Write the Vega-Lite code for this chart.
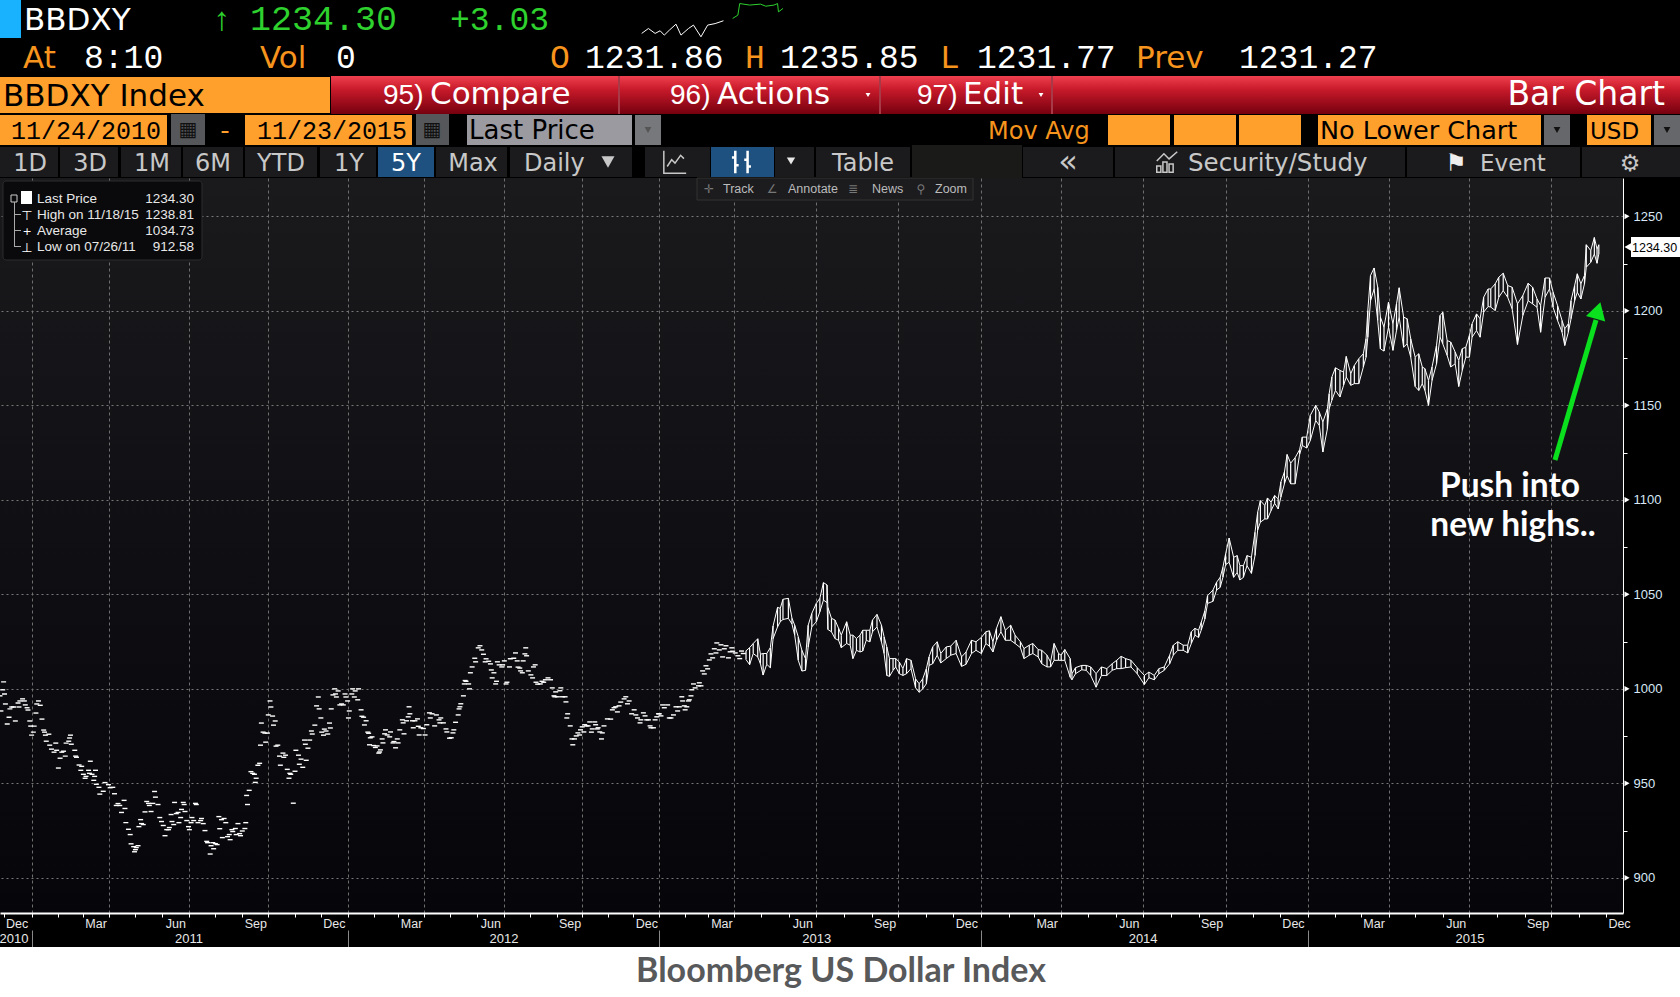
{"$schema":"https://vega.github.io/schema/vega-lite/v6.json","width":1623,"height":735,"autosize":"none","padding":{"left":0,"top":178,"right":57,"bottom":84},"background":"#000",
"view":{"stroke":null,"fill":{"gradient":"linear","x1":0,"y1":0,"x2":0,"y2":1,"stops":[{"offset":0,"color":"#1a1a1d"},{"offset":1,"color":"#05050a"}]}},
"config":{"text":{"align":"left","baseline":"alphabetic","font":"DejaVu Sans","color":"#fff"},"axis":{"labelFont":"Liberation Sans","labelFontSize":12.5,"labelColor":"#e8e8e8","tickColor":"#fff","domainColor":"#fff"}},
"data":{"values":[{}]},
"datasets":{
"closes":[{"d":"2010-11-27","c":996.3},{"d":"2010-11-28","c":988.3},{"d":"2010-11-30","c":999.5},{"d":"2010-12-01","c":1003.7},{"d":"2010-12-02","c":997.3},{"d":"2010-12-03","c":992},{"d":"2010-12-05","c":981.4},{"d":"2010-12-07","c":985},{"d":"2010-12-08","c":989.4},{"d":"2010-12-10","c":990.4},{"d":"2010-12-12","c":990.4},{"d":"2010-12-14","c":983},{"d":"2010-12-17","c":992.5},{"d":"2010-12-18","c":990.4},{"d":"2010-12-19","c":993.6},{"d":"2010-12-22","c":994.7},{"d":"2010-12-24","c":993.6},{"d":"2010-12-25","c":991.5},{"d":"2010-12-27","c":990},{"d":"2010-12-28","c":988.8},{"d":"2010-12-30","c":983},{"d":"2010-12-31","c":980.3},{"d":"2011-01-01","c":975.5},{"d":"2011-01-03","c":977.1},{"d":"2011-01-04","c":980.3},{"d":"2011-01-06","c":987.2},{"d":"2011-01-07","c":992},{"d":"2011-01-09","c":993.6},{"d":"2011-01-11","c":991.3},{"d":"2011-01-13","c":984},{"d":"2011-01-15","c":978.2},{"d":"2011-01-16","c":977.1},{"d":"2011-01-17","c":975.5},{"d":"2011-01-18","c":972.3},{"d":"2011-01-21","c":976},{"d":"2011-01-22","c":970.2},{"d":"2011-01-24","c":968.1},{"d":"2011-01-27","c":966.5},{"d":"2011-01-29","c":971.3},{"d":"2011-01-30","c":967.5},{"d":"2011-02-01","c":958.1},{"d":"2011-02-03","c":963.3},{"d":"2011-02-05","c":966.5},{"d":"2011-02-07","c":967},{"d":"2011-02-09","c":964.4},{"d":"2011-02-10","c":971.3},{"d":"2011-02-13","c":972.3},{"d":"2011-02-14","c":974},{"d":"2011-02-15","c":975.5},{"d":"2011-02-16","c":970.7},{"d":"2011-02-20","c":967.5},{"d":"2011-02-21","c":964.4},{"d":"2011-02-22","c":963.8},{"d":"2011-02-25","c":959.7},{"d":"2011-02-27","c":956.9},{"d":"2011-02-28","c":959},{"d":"2011-03-02","c":954.8},{"d":"2011-03-04","c":952.7},{"d":"2011-03-05","c":953.7},{"d":"2011-03-08","c":956.9},{"d":"2011-03-09","c":955.3},{"d":"2011-03-10","c":961.7},{"d":"2011-03-12","c":954.8},{"d":"2011-03-14","c":951.6},{"d":"2011-03-15","c":953.7},{"d":"2011-03-16","c":956.9},{"d":"2011-03-17","c":949.5},{"d":"2011-03-20","c":947.9},{"d":"2011-03-21","c":944.3},{"d":"2011-03-25","c":945.8},{"d":"2011-03-27","c":950.4},{"d":"2011-03-31","c":949.3},{"d":"2011-04-02","c":947.7},{"d":"2011-04-05","c":947.9},{"d":"2011-04-07","c":944.5},{"d":"2011-04-09","c":938.3},{"d":"2011-04-11","c":939.3},{"d":"2011-04-13","c":938.3},{"d":"2011-04-15","c":934.6},{"d":"2011-04-18","c":941},{"d":"2011-04-19","c":936.7},{"d":"2011-04-20","c":929.2},{"d":"2011-04-23","c":925.7},{"d":"2011-04-25","c":922.9},{"d":"2011-04-26","c":918},{"d":"2011-04-29","c":916.5},{"d":"2011-04-30","c":913.8},{"d":"2011-05-01","c":914.9},{"d":"2011-05-02","c":916},{"d":"2011-05-04","c":917},{"d":"2011-05-05","c":927.1},{"d":"2011-05-07","c":930.8},{"d":"2011-05-08","c":928.7},{"d":"2011-05-10","c":928.2},{"d":"2011-05-12","c":934.9},{"d":"2011-05-14","c":940.4},{"d":"2011-05-16","c":939.4},{"d":"2011-05-17","c":938.3},{"d":"2011-05-19","c":935.1},{"d":"2011-05-21","c":939.4},{"d":"2011-05-23","c":945.7},{"d":"2011-05-24","c":942.7},{"d":"2011-05-27","c":938.8},{"d":"2011-05-29","c":931.9},{"d":"2011-05-31","c":929.8},{"d":"2011-06-02","c":927.7},{"d":"2011-06-04","c":922.3},{"d":"2011-06-06","c":925.5},{"d":"2011-06-08","c":925.5},{"d":"2011-06-09","c":926.6},{"d":"2011-06-11","c":933.5},{"d":"2011-06-12","c":929.8},{"d":"2011-06-14","c":928.2},{"d":"2011-06-15","c":939.9},{"d":"2011-06-17","c":934},{"d":"2011-06-19","c":934.6},{"d":"2011-06-20","c":929.2},{"d":"2011-06-22","c":931.9},{"d":"2011-06-23","c":936.2},{"d":"2011-06-25","c":939.9},{"d":"2011-06-26","c":938.8},{"d":"2011-06-27","c":935.1},{"d":"2011-06-29","c":930.3},{"d":"2011-07-01","c":927.1},{"d":"2011-07-02","c":925.5},{"d":"2011-07-04","c":929.2},{"d":"2011-07-05","c":931.9},{"d":"2011-07-07","c":930.3},{"d":"2011-07-09","c":939.4},{"d":"2011-07-10","c":938.8},{"d":"2011-07-12","c":929.2},{"d":"2011-07-15","c":930.3},{"d":"2011-07-16","c":931.4},{"d":"2011-07-18","c":928.7},{"d":"2011-07-20","c":925},{"d":"2011-07-22","c":919.3},{"d":"2011-07-23","c":918.6},{"d":"2011-07-26","c":912.6},{"d":"2011-07-27","c":917},{"d":"2011-07-29","c":918.6},{"d":"2011-07-30","c":915.4},{"d":"2011-08-01","c":918.1},{"d":"2011-08-03","c":917.6},{"d":"2011-08-05","c":932.4},{"d":"2011-08-06","c":926},{"d":"2011-08-08","c":930.8},{"d":"2011-08-09","c":921.3},{"d":"2011-08-11","c":931.4},{"d":"2011-08-13","c":929.2},{"d":"2011-08-15","c":921.8},{"d":"2011-08-17","c":922.9},{"d":"2011-08-18","c":920.2},{"d":"2011-08-20","c":925.5},{"d":"2011-08-21","c":924.5},{"d":"2011-08-24","c":926.1},{"d":"2011-08-25","c":922.9},{"d":"2011-08-27","c":928.7},{"d":"2011-08-29","c":923.4},{"d":"2011-08-30","c":922.3},{"d":"2011-09-01","c":924.8},{"d":"2011-09-04","c":926.1},{"d":"2011-09-05","c":929.2},{"d":"2011-09-06","c":943.6},{"d":"2011-09-07","c":938.8},{"d":"2011-09-09","c":946.3},{"d":"2011-09-11","c":956.2},{"d":"2011-09-13","c":955.3},{"d":"2011-09-15","c":954.8},{"d":"2011-09-16","c":950.5},{"d":"2011-09-17","c":952.7},{"d":"2011-09-19","c":959.6},{"d":"2011-09-21","c":960.6},{"d":"2011-09-22","c":970.2},{"d":"2011-09-23","c":981.9},{"d":"2011-09-25","c":977.1},{"d":"2011-09-27","c":976.6},{"d":"2011-09-28","c":971.8},{"d":"2011-09-30","c":976.6},{"d":"2011-10-01","c":986.2},{"d":"2011-10-03","c":993.6},{"d":"2011-10-04","c":990.4},{"d":"2011-10-06","c":985.6},{"d":"2011-10-07","c":980.8},{"d":"2011-10-09","c":983},{"d":"2011-10-10","c":969.7},{"d":"2011-10-12","c":970.2},{"d":"2011-10-14","c":964.4},{"d":"2011-10-15","c":959.6},{"d":"2011-10-18","c":966},{"d":"2011-10-19","c":963.8},{"d":"2011-10-21","c":964.9},{"d":"2011-10-23","c":957.4},{"d":"2011-10-25","c":952.7},{"d":"2011-10-26","c":955.3},{"d":"2011-10-27","c":954.8},{"d":"2011-10-30","c":939.5},{"d":"2011-11-01","c":956.4},{"d":"2011-11-02","c":967.5},{"d":"2011-11-05","c":964.9},{"d":"2011-11-06","c":960.1},{"d":"2011-11-08","c":962.8},{"d":"2011-11-10","c":958.5},{"d":"2011-11-12","c":972.9},{"d":"2011-11-13","c":970.7},{"d":"2011-11-14","c":962.2},{"d":"2011-11-16","c":968.6},{"d":"2011-11-18","c":972.9},{"d":"2011-11-20","c":977.7},{"d":"2011-11-21","c":976.1},{"d":"2011-11-24","c":980.8},{"d":"2011-11-26","c":991},{"d":"2011-11-28","c":995.7},{"d":"2011-11-29","c":989.4},{"d":"2011-12-01","c":984.6},{"d":"2011-12-02","c":977.1},{"d":"2011-12-04","c":975.5},{"d":"2011-12-05","c":978.7},{"d":"2011-12-07","c":977.7},{"d":"2011-12-09","c":976.1},{"d":"2011-12-11","c":981.9},{"d":"2011-12-12","c":979.3},{"d":"2011-12-13","c":989.4},{"d":"2011-12-15","c":996.8},{"d":"2011-12-17","c":1000},{"d":"2011-12-18","c":997.3},{"d":"2011-12-19","c":995.7},{"d":"2011-12-21","c":998.9},{"d":"2011-12-23","c":991.5},{"d":"2011-12-25","c":992},{"d":"2011-12-27","c":991.5},{"d":"2011-12-29","c":997.3},{"d":"2011-12-30","c":995.7},{"d":"2012-01-01","c":993.6},{"d":"2012-01-02","c":984.6},{"d":"2012-01-03","c":988.3},{"d":"2012-01-06","c":997.3},{"d":"2012-01-07","c":1000},{"d":"2012-01-09","c":995.7},{"d":"2012-01-10","c":998.9},{"d":"2012-01-13","c":994.2},{"d":"2012-01-14","c":1000},{"d":"2012-01-17","c":988.9},{"d":"2012-01-18","c":985.5},{"d":"2012-01-20","c":985},{"d":"2012-01-21","c":980.9},{"d":"2012-01-23","c":983.1},{"d":"2012-01-25","c":977.1},{"d":"2012-01-26","c":976.5},{"d":"2012-01-27","c":970.4},{"d":"2012-01-28","c":974.1},{"d":"2012-01-30","c":974.6},{"d":"2012-02-01","c":970},{"d":"2012-02-03","c":969},{"d":"2012-02-05","c":969.8},{"d":"2012-02-07","c":966},{"d":"2012-02-08","c":966.6},{"d":"2012-02-09","c":967.7},{"d":"2012-02-11","c":973.5},{"d":"2012-02-12","c":971.4},{"d":"2012-02-14","c":976.2},{"d":"2012-02-15","c":978.3},{"d":"2012-02-17","c":975.6},{"d":"2012-02-20","c":974.6},{"d":"2012-02-21","c":977.2},{"d":"2012-02-24","c":971.4},{"d":"2012-02-25","c":972.1},{"d":"2012-02-27","c":968.8},{"d":"2012-02-29","c":973.5},{"d":"2012-03-01","c":971.4},{"d":"2012-03-03","c":978.3},{"d":"2012-03-06","c":983.6},{"d":"2012-03-07","c":982},{"d":"2012-03-08","c":976.2},{"d":"2012-03-11","c":983.1},{"d":"2012-03-13","c":985.2},{"d":"2012-03-14","c":990.5},{"d":"2012-03-15","c":986.8},{"d":"2012-03-18","c":983.1},{"d":"2012-03-19","c":979.4},{"d":"2012-03-21","c":983.1},{"d":"2012-03-24","c":984.1},{"d":"2012-03-25","c":980.2},{"d":"2012-03-26","c":975.6},{"d":"2012-03-28","c":979.4},{"d":"2012-03-31","c":979},{"d":"2012-04-02","c":975.6},{"d":"2012-04-04","c":981},{"d":"2012-04-07","c":987.3},{"d":"2012-04-08","c":984.6},{"d":"2012-04-10","c":986.8},{"d":"2012-04-13","c":980.4},{"d":"2012-04-15","c":986.2},{"d":"2012-04-18","c":983.6},{"d":"2012-04-19","c":982},{"d":"2012-04-20","c":984.6},{"d":"2012-04-23","c":982},{"d":"2012-04-26","c":978.8},{"d":"2012-04-27","c":977.2},{"d":"2012-04-30","c":973.9},{"d":"2012-05-02","c":974.1},{"d":"2012-05-04","c":976.7},{"d":"2012-05-05","c":978.3},{"d":"2012-05-07","c":982.3},{"d":"2012-05-10","c":986.2},{"d":"2012-05-11","c":989.4},{"d":"2012-05-12","c":990.5},{"d":"2012-05-13","c":992.1},{"d":"2012-05-16","c":996.3},{"d":"2012-05-17","c":1002.6},{"d":"2012-05-18","c":1004.4},{"d":"2012-05-19","c":1004},{"d":"2012-05-22","c":1002.6},{"d":"2012-05-23","c":1000},{"d":"2012-05-24","c":1008.5},{"d":"2012-05-26","c":1011.6},{"d":"2012-05-29","c":1016.2},{"d":"2012-05-30","c":1014.3},{"d":"2012-06-02","c":1021.7},{"d":"2012-06-04","c":1022.8},{"d":"2012-06-06","c":1020.6},{"d":"2012-06-08","c":1018.3},{"d":"2012-06-10","c":1014.3},{"d":"2012-06-11","c":1015.9},{"d":"2012-06-14","c":1014.6},{"d":"2012-06-16","c":1013.2},{"d":"2012-06-17","c":1010},{"d":"2012-06-18","c":1005.8},{"d":"2012-06-20","c":1008.5},{"d":"2012-06-22","c":1002.6},{"d":"2012-06-23","c":1004},{"d":"2012-06-24","c":1014.3},{"d":"2012-06-26","c":1012.7},{"d":"2012-06-29","c":1011.6},{"d":"2012-06-30","c":1012.7},{"d":"2012-07-02","c":1014.8},{"d":"2012-07-04","c":1002.6},{"d":"2012-07-05","c":1003.5},{"d":"2012-07-08","c":1011.6},{"d":"2012-07-09","c":1015.9},{"d":"2012-07-13","c":1016.2},{"d":"2012-07-15","c":1019},{"d":"2012-07-17","c":1014.8},{"d":"2012-07-18","c":1011.5},{"d":"2012-07-20","c":1011},{"d":"2012-07-21","c":1009.5},{"d":"2012-07-23","c":1008.5},{"d":"2012-07-24","c":1014.8},{"d":"2012-07-26","c":1018.5},{"d":"2012-07-27","c":1021.7},{"d":"2012-07-28","c":1017.5},{"d":"2012-07-30","c":1009.5},{"d":"2012-08-02","c":1007.4},{"d":"2012-08-04","c":1005.8},{"d":"2012-08-05","c":1011.6},{"d":"2012-08-07","c":1012.7},{"d":"2012-08-08","c":1003.5},{"d":"2012-08-10","c":1002.5},{"d":"2012-08-13","c":1002.6},{"d":"2012-08-15","c":1004},{"d":"2012-08-17","c":1003.5},{"d":"2012-08-19","c":1004.8},{"d":"2012-08-22","c":1005.8},{"d":"2012-08-25","c":1004.8},{"d":"2012-08-27","c":1000.5},{"d":"2012-08-29","c":996.3},{"d":"2012-08-30","c":995.8},{"d":"2012-08-31","c":998.4},{"d":"2012-09-02","c":995.8},{"d":"2012-09-05","c":999},{"d":"2012-09-06","c":1000.5},{"d":"2012-09-08","c":995.8},{"d":"2012-09-11","c":995.8},{"d":"2012-09-12","c":993.1},{"d":"2012-09-13","c":984.6},{"d":"2012-09-14","c":986.8},{"d":"2012-09-17","c":980.4},{"d":"2012-09-19","c":973.5},{"d":"2012-09-20","c":970.4},{"d":"2012-09-22","c":973.5},{"d":"2012-09-24","c":975.1},{"d":"2012-09-26","c":976.7},{"d":"2012-09-28","c":975.6},{"d":"2012-09-29","c":978.3},{"d":"2012-10-01","c":979.9},{"d":"2012-10-03","c":977.2},{"d":"2012-10-04","c":981},{"d":"2012-10-06","c":980.4},{"d":"2012-10-08","c":980.4},{"d":"2012-10-10","c":982.5},{"d":"2012-10-12","c":977.1},{"d":"2012-10-13","c":978.8},{"d":"2012-10-16","c":982.5},{"d":"2012-10-17","c":981},{"d":"2012-10-19","c":978.8},{"d":"2012-10-20","c":979.4},{"d":"2012-10-22","c":977.2},{"d":"2012-10-24","c":973.5},{"d":"2012-10-25","c":976.7},{"d":"2012-10-27","c":980.4},{"d":"2012-10-31","c":984.1},{"d":"2012-11-04","c":984},{"d":"2012-11-06","c":988.9},{"d":"2012-11-08","c":990},{"d":"2012-11-10","c":990.5},{"d":"2012-11-12","c":987.8},{"d":"2012-11-14","c":991},{"d":"2012-11-16","c":993},{"d":"2012-11-20","c":994.7},{"d":"2012-11-22","c":995.8},{"d":"2012-11-24","c":992.1},{"d":"2012-11-26","c":993.6},{"d":"2012-11-29","c":986.8},{"d":"2012-12-02","c":988.9},{"d":"2012-12-04","c":986.2},{"d":"2012-12-06","c":984.6},{"d":"2012-12-09","c":982},{"d":"2012-12-10","c":983.6},{"d":"2012-12-13","c":987.3},{"d":"2012-12-15","c":985.7},{"d":"2012-12-17","c":983.6},{"d":"2012-12-19","c":983.6},{"d":"2012-12-21","c":980.4},{"d":"2012-12-22","c":979.4},{"d":"2012-12-25","c":979.4},{"d":"2012-12-27","c":983.6},{"d":"2012-12-29","c":985.2},{"d":"2012-12-31","c":986.8},{"d":"2013-01-01","c":986.8},{"d":"2013-01-03","c":985.7},{"d":"2013-01-05","c":991.5},{"d":"2013-01-07","c":990},{"d":"2013-01-11","c":991.5},{"d":"2013-01-13","c":984.6},{"d":"2013-01-15","c":984.6},{"d":"2013-01-18","c":986.2},{"d":"2013-01-21","c":990.5},{"d":"2013-01-23","c":988.3},{"d":"2013-01-25","c":990.5},{"d":"2013-01-28","c":995.8},{"d":"2013-01-29","c":993.6},{"d":"2013-01-31","c":991},{"d":"2013-02-01","c":988.9},{"d":"2013-02-03","c":990.5},{"d":"2013-02-05","c":993.6},{"d":"2013-02-06","c":994.2},{"d":"2013-02-08","c":996.3},{"d":"2013-02-09","c":999.5},{"d":"2013-02-11","c":1002.6},{"d":"2013-02-13","c":1000.5},{"d":"2013-02-17","c":1001.6},{"d":"2013-02-18","c":1003.2},{"d":"2013-02-20","c":1001.6},{"d":"2013-02-22","c":1009.5},{"d":"2013-02-24","c":1007.9},{"d":"2013-02-26","c":1012.2},{"d":"2013-02-28","c":1010.6},{"d":"2013-03-02","c":1015.3},{"d":"2013-03-04","c":1018.5},{"d":"2013-03-06","c":1016.4},{"d":"2013-03-08","c":1021.2},{"d":"2013-03-10","c":1019},{"d":"2013-03-11","c":1024.3},{"d":"2013-03-14","c":1020.6},{"d":"2013-03-16","c":1023.3},{"d":"2013-03-18","c":1016.9},{"d":"2013-03-20","c":1021.2},{"d":"2013-03-22","c":1022.8},{"d":"2013-03-25","c":1016.4},{"d":"2013-03-27","c":1019.6},{"d":"2013-03-29","c":1021.7},{"d":"2013-03-30","c":1019.9},{"d":"2013-04-02","c":1019},{"d":"2013-04-05","c":1017.5},{"d":"2013-04-07","c":1016},{"d":"2013-04-09","c":1020},{"d":"2013-04-11","c":1018.7}],
"bars":[{"d":"2013-04-14","h":1020.1,"l":1015.5},{"d":"2013-04-18","h":1021.8,"l":1012.8},{"d":"2013-04-22","h":1024,"l":1018.7},{"d":"2013-04-27","h":1026.5,"l":1016.9},{"d":"2013-04-30","h":1018.3,"l":1013.3},{"d":"2013-05-03","h":1018.7,"l":1007.3},{"d":"2013-05-07","h":1018.7,"l":1013},{"d":"2013-05-11","h":1021.8,"l":1011.2},{"d":"2013-05-14","h":1033.2,"l":1026.5},{"d":"2013-05-19","h":1043.1,"l":1032.8},{"d":"2013-05-22","h":1042.6,"l":1035.5},{"d":"2013-05-25","h":1047.4,"l":1036.7},{"d":"2013-05-31","h":1047.9,"l":1037.3},{"d":"2013-06-04","h":1037.3,"l":1034.3},{"d":"2013-06-07","h":1033.7,"l":1028.4},{"d":"2013-06-11","h":1027.5,"l":1015.1},{"d":"2013-06-15","h":1020.4,"l":1009.4},{"d":"2013-06-19","h":1016,"l":1009.8},{"d":"2013-06-22","h":1033.7,"l":1022.2},{"d":"2013-06-26","h":1039.9,"l":1032.8},{"d":"2013-07-01","h":1045.2,"l":1035.5},{"d":"2013-07-05","h":1047.9,"l":1040.8},{"d":"2013-07-09","h":1056.2,"l":1047},{"d":"2013-07-13","h":1055,"l":1045.6},{"d":"2013-07-14","h":1043.1,"l":1031.4},{"d":"2013-07-18","h":1037.3,"l":1030.2},{"d":"2013-07-22","h":1036.4,"l":1026.6},{"d":"2013-07-26","h":1032,"l":1025.7},{"d":"2013-07-29","h":1028.4,"l":1021.8},{"d":"2013-08-04","h":1035.5,"l":1024},{"d":"2013-08-08","h":1028.4,"l":1023.1},{"d":"2013-08-11","h":1028.4,"l":1016},{"d":"2013-08-15","h":1026.6,"l":1020.4},{"d":"2013-08-19","h":1028.4,"l":1019.5},{"d":"2013-08-22","h":1031,"l":1020},{"d":"2013-08-26","h":1031,"l":1025.7},{"d":"2013-08-30","h":1031,"l":1024.9},{"d":"2013-09-02","h":1036.4,"l":1030.2},{"d":"2013-09-07","h":1039.4,"l":1032.8},{"d":"2013-09-12","h":1033.7,"l":1024.9},{"d":"2013-09-15","h":1027.5,"l":1018.7},{"d":"2013-09-18","h":1022.2,"l":1007.1},{"d":"2013-09-21","h":1016,"l":1006.6},{"d":"2013-09-25","h":1016,"l":1009.8},{"d":"2013-09-28","h":1016,"l":1011.6},{"d":"2013-10-02","h":1014.2,"l":1008},{"d":"2013-10-06","h":1010.7,"l":1007.1},{"d":"2013-10-10","h":1016,"l":1008},{"d":"2013-10-15","h":1015.1,"l":1010.7},{"d":"2013-10-20","h":1005.3,"l":1000.6},{"d":"2013-10-24","h":1002.7,"l":998.2},{"d":"2013-10-28","h":1005.3,"l":1000},{"d":"2013-11-01","h":1010.7,"l":1002.7},{"d":"2013-11-04","h":1016.9,"l":1012.4},{"d":"2013-11-08","h":1022.2,"l":1013.3},{"d":"2013-11-13","h":1024.9,"l":1017.8},{"d":"2013-11-17","h":1018.7,"l":1013.7},{"d":"2013-11-23","h":1022.2,"l":1016},{"d":"2013-11-28","h":1022.6,"l":1017.8},{"d":"2013-12-04","h":1025.7,"l":1018.7},{"d":"2013-12-10","h":1016.9,"l":1011.9},{"d":"2013-12-15","h":1019.5,"l":1013},{"d":"2013-12-21","h":1025.7,"l":1018.7},{"d":"2013-12-26","h":1024.9,"l":1020.4},{"d":"2014-01-01","h":1027.2,"l":1018.7},{"d":"2014-01-06","h":1030.2,"l":1024},{"d":"2014-01-10","h":1030.7,"l":1022.6},{"d":"2014-01-14","h":1024.9,"l":1019.5},{"d":"2014-01-18","h":1032,"l":1025.7},{"d":"2014-01-23","h":1038.2,"l":1030.2},{"d":"2014-01-28","h":1031,"l":1025.7},{"d":"2014-02-03","h":1033.7,"l":1025.7},{"d":"2014-02-08","h":1028.4,"l":1024},{"d":"2014-02-14","h":1024.9,"l":1021.8},{"d":"2014-02-18","h":1021.3,"l":1016},{"d":"2014-02-24","h":1023.1,"l":1017.8},{"d":"2014-02-28","h":1024,"l":1018.7},{"d":"2014-03-06","h":1020.8,"l":1016.9},{"d":"2014-03-10","h":1020.4,"l":1013.3},{"d":"2014-03-16","h":1017.8,"l":1011.6},{"d":"2014-03-20","h":1014.2,"l":1011.6},{"d":"2014-03-24","h":1024,"l":1015.1},{"d":"2014-03-29","h":1018.7,"l":1015.1},{"d":"2014-04-01","h":1017.8,"l":1015.1},{"d":"2014-04-05","h":1020.8,"l":1015.1},{"d":"2014-04-11","h":1016,"l":1006.2},{"d":"2014-04-13","h":1008,"l":1004.8},{"d":"2014-04-17","h":1011.2,"l":1008},{"d":"2014-04-24","h":1012.4,"l":1010.1},{"d":"2014-04-29","h":1012.4,"l":1009.8},{"d":"2014-05-04","h":1011.6,"l":1007.1},{"d":"2014-05-10","h":1008,"l":1000.9},{"d":"2014-05-16","h":1011.6,"l":1007.1},{"d":"2014-05-22","h":1010.7,"l":1007.1},{"d":"2014-05-28","h":1013.3,"l":1009.8},{"d":"2014-06-02","h":1015.1,"l":1010.7},{"d":"2014-06-07","h":1017.2,"l":1010.7},{"d":"2014-06-12","h":1016,"l":1011.2},{"d":"2014-06-18","h":1015.1,"l":1011.6},{"d":"2014-06-25","h":1011.2,"l":1008},{"d":"2014-07-03","h":1007.1,"l":1002.3},{"d":"2014-07-08","h":1008.9,"l":1005.9},{"d":"2014-07-14","h":1007.1,"l":1004.8},{"d":"2014-07-19","h":1010.7,"l":1008},{"d":"2014-07-25","h":1011.6,"l":1009.8},{"d":"2014-07-31","h":1017.8,"l":1013.3},{"d":"2014-08-04","h":1023.1,"l":1017.8},{"d":"2014-08-09","h":1024.9,"l":1020.4},{"d":"2014-08-15","h":1023.1,"l":1020.4},{"d":"2014-08-20","h":1023.1,"l":1019},{"d":"2014-08-24","h":1030.2,"l":1024},{"d":"2014-08-28","h":1032,"l":1028.4},{"d":"2014-09-01","h":1031,"l":1027.2},{"d":"2014-09-04","h":1035.2,"l":1031.1},{"d":"2014-09-08","h":1041.3,"l":1036.9},{"d":"2014-09-11","h":1049.3,"l":1045.2},{"d":"2014-09-17","h":1052.3,"l":1046.3},{"d":"2014-09-21","h":1056.4,"l":1052.3},{"d":"2014-09-25","h":1059,"l":1053.7},{"d":"2014-09-28","h":1064.3,"l":1059},{"d":"2014-10-01","h":1071.4,"l":1065.7},{"d":"2014-10-05","h":1079.8,"l":1067},{"d":"2014-10-10","h":1069.6,"l":1059},{"d":"2014-10-14","h":1070.5,"l":1061.6},{"d":"2014-10-17","h":1065.2,"l":1057.6},{"d":"2014-10-21","h":1065.2,"l":1059},{"d":"2014-10-25","h":1070.5,"l":1065.2},{"d":"2014-10-30","h":1069.6,"l":1061.1},{"d":"2014-11-03","h":1082.9,"l":1070.5},{"d":"2014-11-06","h":1093.5,"l":1084.1},{"d":"2014-11-09","h":1099.6,"l":1088.2},{"d":"2014-11-14","h":1097,"l":1089.9},{"d":"2014-11-17","h":1101,"l":1089.9},{"d":"2014-11-21","h":1098.8,"l":1094.3},{"d":"2014-11-25","h":1102.3,"l":1098.2},{"d":"2014-11-29","h":1100.5,"l":1095.2},{"d":"2014-12-02","h":1109.4,"l":1101.4},{"d":"2014-12-06","h":1114.7,"l":1108.5},{"d":"2014-12-09","h":1124,"l":1112.9},{"d":"2014-12-13","h":1119.4,"l":1108.5},{"d":"2014-12-18","h":1122.3,"l":1108.5},{"d":"2014-12-23","h":1126.5,"l":1124},{"d":"2014-12-26","h":1133.2,"l":1128.8},{"d":"2014-12-31","h":1133.2,"l":1127.4},{"d":"2015-01-04","h":1144.7,"l":1131.4},{"d":"2015-01-10","h":1150,"l":1142},{"d":"2015-01-14","h":1146.5,"l":1139.4},{"d":"2015-01-18","h":1141.2,"l":1125.3},{"d":"2015-01-23","h":1148.2,"l":1137.6},{"d":"2015-01-25","h":1156.2,"l":1148.2},{"d":"2015-01-28","h":1165,"l":1152.7},{"d":"2015-02-01","h":1169.9,"l":1157.9},{"d":"2015-02-06","h":1168.5,"l":1154.4},{"d":"2015-02-10","h":1167.6,"l":1160.6},{"d":"2015-02-13","h":1175.9,"l":1165},{"d":"2015-02-18","h":1166.7,"l":1160.6},{"d":"2015-02-22","h":1171.1,"l":1161.5},{"d":"2015-02-27","h":1174.7,"l":1161.5},{"d":"2015-03-04","h":1177.3,"l":1170.3},{"d":"2015-03-07","h":1185.2,"l":1175.5},{"d":"2015-03-09","h":1200.2,"l":1186.1},{"d":"2015-03-12","h":1218.7,"l":1205.4},{"d":"2015-03-16","h":1222.7,"l":1211.6},{"d":"2015-03-20","h":1212.5,"l":1194.9},{"d":"2015-03-23","h":1196.7,"l":1179.9},{"d":"2015-03-27","h":1191.4,"l":1178.7},{"d":"2015-04-01","h":1204.6,"l":1191.4},{"d":"2015-04-06","h":1193.1,"l":1179.1},{"d":"2015-04-10","h":1203.7,"l":1189.6},{"d":"2015-04-13","h":1212.2,"l":1196.7},{"d":"2015-04-18","h":1196.7,"l":1180.8},{"d":"2015-04-22","h":1195.8,"l":1182.6},{"d":"2015-04-26","h":1185.2,"l":1175.5},{"d":"2015-05-01","h":1175.5,"l":1160},{"d":"2015-05-05","h":1177.3,"l":1157.9},{"d":"2015-05-09","h":1170.3,"l":1161.5},{"d":"2015-05-12","h":1169.4,"l":1157.9},{"d":"2015-05-16","h":1163.2,"l":1150},{"d":"2015-05-20","h":1170.3,"l":1163.2},{"d":"2015-05-25","h":1181.7,"l":1172},{"d":"2015-05-29","h":1197.5,"l":1186.1},{"d":"2015-06-01","h":1199.3,"l":1182.6},{"d":"2015-06-06","h":1184.3,"l":1176.4},{"d":"2015-06-10","h":1183.5,"l":1170.3},{"d":"2015-06-15","h":1178.2,"l":1172},{"d":"2015-06-19","h":1173.8,"l":1160},{"d":"2015-06-23","h":1180,"l":1168.5},{"d":"2015-06-27","h":1180.8,"l":1175.5},{"d":"2015-07-01","h":1187,"l":1175.5},{"d":"2015-07-04","h":1193.1,"l":1186.1},{"d":"2015-07-09","h":1198.4,"l":1189.6},{"d":"2015-07-13","h":1195.8,"l":1186.1},{"d":"2015-07-17","h":1207.2,"l":1199.3},{"d":"2015-07-22","h":1211.6,"l":1202.3},{"d":"2015-07-25","h":1211.6,"l":1202},{"d":"2015-07-30","h":1214.3,"l":1200.2},{"d":"2015-08-03","h":1217.8,"l":1207.2},{"d":"2015-08-08","h":1219.9,"l":1210.7},{"d":"2015-08-13","h":1213.4,"l":1207.2},{"d":"2015-08-18","h":1212.5,"l":1201.1},{"d":"2015-08-24","h":1203.7,"l":1182.2},{"d":"2015-08-30","h":1208.1,"l":1197.5},{"d":"2015-09-05","h":1214.6,"l":1205.4},{"d":"2015-09-10","h":1212.5,"l":1203.7},{"d":"2015-09-15","h":1206.3,"l":1201.9},{"d":"2015-09-19","h":1202.8,"l":1188.7},{"d":"2015-09-24","h":1217.4,"l":1207.2},{"d":"2015-09-29","h":1217.4,"l":1211.6},{"d":"2015-10-03","h":1209.9,"l":1201.9},{"d":"2015-10-08","h":1202.8,"l":1194.9},{"d":"2015-10-13","h":1194.9,"l":1188.7},{"d":"2015-10-16","h":1190.5,"l":1181.7},{"d":"2015-10-20","h":1193.1,"l":1188.7},{"d":"2015-10-23","h":1205.4,"l":1195.8},{"d":"2015-10-27","h":1213.4,"l":1205.4},{"d":"2015-10-30","h":1219.6,"l":1209.9},{"d":"2015-11-03","h":1214.3,"l":1206.3},{"d":"2015-11-07","h":1218.7,"l":1214.3},{"d":"2015-11-09","h":1235,"l":1223.1},{"d":"2015-11-14","h":1231.9,"l":1225.7},{"d":"2015-11-18","h":1238.8,"l":1230.1},{"d":"2015-11-21","h":1232.7,"l":1225.2},{"d":"2015-11-23","h":1235,"l":1230.1}],
"sparkPrior":[{"d":"2012-12-11","v":1346.8},{"d":"2012-12-19","v":1349.4},{"d":"2012-12-27","v":1346.8},{"d":"2013-01-02","v":1348.2},{"d":"2013-01-07","v":1345.9},{"d":"2013-01-13","v":1348.5},{"d":"2013-01-21","v":1351.7},{"d":"2013-01-27","v":1345.9},{"d":"2013-02-05","v":1349.4},{"d":"2013-02-11","v":1351.2},{"d":"2013-02-20","v":1345},{"d":"2013-02-28","v":1351.2},{"d":"2013-03-09","v":1352},{"d":"2013-03-19","v":1353.5}],
"sparkNow":[{"d":"2013-03-30","v":1354.7},{"d":"2013-04-05","v":1356.5},{"d":"2013-04-07","v":1362.6},{"d":"2013-04-18","v":1361.8},{"d":"2013-04-30","v":1362.3},{"d":"2013-05-06","v":1361.2},{"d":"2013-05-15","v":1361.8},{"d":"2013-05-19","v":1362.6},{"d":"2013-05-20","v":1358.2},{"d":"2013-05-25","v":1360}],
"levels":[{"v":900},{"v":950},{"v":1000},{"v":1050},{"v":1100},{"v":1150},{"v":1200},{"v":1250}]
},
"resolve":{"axis":{"x":"independent","y":"independent"}},
"layer":[
{"data":{"name":"closes"},"mark":{"type":"tick","orient":"horizontal","size":5,"thickness":1.4,"color":"#fff","opacity":1},"encoding":{
"x":{"field":"d","type":"temporal","title":null,"scale":{"type":"utc","domain":{"expr":"[utc(2010,10,27),utc(2011,0,1),utc(2011,3,1),utc(2011,6,1),utc(2011,9,1),utc(2012,0,1),utc(2012,3,1),utc(2012,6,1),utc(2012,9,1),utc(2013,0,1),utc(2013,3,1),utc(2013,6,1),utc(2013,9,1),utc(2014,0,1),utc(2014,3,1),utc(2014,6,1),utc(2014,9,1),utc(2015,0,1),utc(2015,3,1),utc(2015,6,1),utc(2015,9,1),utc(2015,11,1),utc(2015,11,21)]"},"range":[0,31.6,109.3,188.5,268.3,347.6,424.2,503.5,582.2,659.3,734.3,816.3,898.4,981.4,1061.2,1142.6,1225.6,1307.6,1388.5,1469.4,1551.3,1606,1623]},"axis":{"orient":"bottom","tickCount":{"interval":"month","step":1},"grid":false,"domainWidth":2,"tickSize":4,"labelPadding":0,"labelOffset":13,"labelOverlap":false,"labelBound":false,"labelFlush":false,"labelExpr":"indexof([2,5,8,11],utcmonth(datum.value))>=0?utcFormat(datum.value,'%b'):''"}},
"y":{"field":"c","type":"quantitative","title":null,"scale":{"domain":[881.4,1270.3],"nice":false,"zero":false},"axis":{"orient":"right","format":"d","values":[900,950,1000,1050,1100,1150,1200,1250],"grid":true,"gridDash":[2,3],"gridColor":"#777","tickSize":9,"tickOpacity":0,"labelPadding":1,"labelColor":"#d8e8f6","labelFontSize":13}}}},
{"data":{"name":"bars"},"mark":{"type":"rule","color":"#fff","strokeWidth":1.2},"encoding":{
"x":{"field":"d","type":"temporal","title":null,"axis":{"orient":"bottom","tickCount":{"interval":"month","step":3},"grid":true,"gridDash":[3,3],"gridColor":"#6e6e6e","domain":false,"ticks":false,"labels":false}},
"y":{"field":"h","type":"quantitative","title":null,"axis":{"orient":"right","values":[925,975,1025,1075,1125,1175,1225],"grid":false,"domain":false,"tickSize":4,"labels":false}},
"y2":{"field":"l"}}},
{"data":{"name":"bars"},"mark":{"type":"line","color":"#fff","strokeWidth":1},"encoding":{
"x":{"field":"d","type":"temporal","title":null,"axis":{"orient":"bottom","values":[{"year":2010,"month":12,"date":12,"utc":true},{"year":2011,"month":7,"date":1,"utc":true},{"year":2012,"month":7,"date":1,"utc":true},{"year":2013,"month":7,"date":1,"utc":true},{"year":2014,"month":7,"date":1,"utc":true},{"year":2015,"month":7,"date":1,"utc":true}],"offset":17,"grid":false,"domain":false,"ticks":false,"labelPadding":2,"labelFontSize":13,"labelBound":false,"labelFlush":false,"labelOverlap":false,"labelExpr":"utcFormat(datum.value,'%Y')"}},
"y":{"field":"h","type":"quantitative","axis":null}}},
{"data":{"name":"bars"},"mark":{"type":"line","color":"#fff","strokeWidth":1},"encoding":{
"x":{"field":"d","type":"temporal","title":null,"axis":{"orient":"bottom","values":[{"year":2011,"month":1,"date":1,"utc":true},{"year":2012,"month":1,"date":1,"utc":true},{"year":2013,"month":1,"date":1,"utc":true},{"year":2014,"month":1,"date":1,"utc":true},{"year":2015,"month":1,"date":1,"utc":true}],"offset":17,"grid":false,"domain":false,"tickSize":17,"tickColor":"#888","labels":false}},
"y":{"field":"l","type":"quantitative","axis":null}}},
{"data":{"name":"sparkPrior"},"mark":{"type":"line","color":"#fff","strokeWidth":1},"encoding":{"x":{"field":"d","type":"temporal","axis":null},"y":{"field":"v","type":"quantitative","axis":null}}},
{"data":{"name":"sparkNow"},"mark":{"type":"line","color":"#2ed12e","strokeWidth":1},"encoding":{"x":{"field":"d","type":"temporal","axis":null},"y":{"field":"v","type":"quantitative","axis":null}}},
{"data":{"name":"levels"},"mark":{"type":"point","shape":"triangle-right","filled":true,"size":35,"color":"#fff","opacity":1,"x":1627},"encoding":{"y":{"field":"v","type":"quantitative","axis":null}}},

{"mark":{"type":"rect","x":0,"x2":1680,"y":769,"y2":819,"color":"#fff"}},
{"mark":{"type":"text","text":"Bloomberg US Dollar Index","x":841,"y":804,"align":"center","font":"Lato","fontWeight":"bold","fontSize":34,"color":"#58595b"}},

{"mark":{"type":"rule","color":"#0be01e","strokeWidth":5},"encoding":{"x":{"value":1555},"y":{"value":282},"x2":{"value":1596},"y2":{"value":142}}},
{"mark":{"type":"point","shape":"triangle-up","filled":true,"opacity":1,"x":1598,"y":132.5,"size":400,"angle":16,"color":"#0be01e"}},
{"mark":{"type":"text","text":"Push into","x":1510,"y":319,"align":"center","font":"Lato","fontWeight":"bold","fontSize":33.5}},
{"mark":{"type":"text","text":"new highs..","x":1513,"y":358,"align":"center","font":"Lato","fontWeight":"bold","fontSize":33.5}},

{"mark":{"type":"rect","x":1631,"x2":1680,"y":59,"y2":79,"color":"#fff"}},
{"mark":{"type":"point","shape":"triangle-left","filled":true,"opacity":1,"x":1629,"y":69,"size":110,"color":"#fff"}},
{"mark":{"type":"text","text":"1234.30","x":1632,"y":74,"font":"Liberation Sans","fontSize":12.5,"color":"#000"}},

{"mark":{"type":"rect","x":3,"x2":202,"y":3,"y2":82,"color":"#0a0a0c","stroke":"#2c2c2e","cornerRadius":3}},
{"mark":{"type":"rect","x":21,"x2":32,"y":13,"y2":26,"color":"#fff"}},
{"mark":{"type":"rect","x":11,"x2":17,"y":17,"y2":24,"color":"#0a0a0c","stroke":"#ccc"}},
{"mark":{"type":"rect","x":14,"x2":15,"y":24,"y2":68,"color":"#aaa"}},
{"mark":{"type":"rect","x":14,"x2":21,"y":36,"y2":37,"color":"#aaa"}},
{"mark":{"type":"rect","x":14,"x2":21,"y":52,"y2":53,"color":"#aaa"}},
{"mark":{"type":"rect","x":14,"x2":21,"y":68,"y2":69,"color":"#aaa"}},
{"mark":{"type":"text","text":"⊤","x":27,"y":42,"align":"center","fontSize":13}},
{"mark":{"type":"text","text":"+","x":27,"y":57,"align":"center","fontSize":11}},
{"mark":{"type":"text","text":"⊥","x":27,"y":74,"align":"center","fontSize":13}},
{"mark":{"type":"text","text":"Last Price","x":37,"y":25,"font":"Liberation Sans","fontSize":13.5,"color":"#e8e8e8"}},
{"mark":{"type":"text","text":"High on 11/18/15","x":37,"y":41,"font":"Liberation Sans","fontSize":13.5,"color":"#e8e8e8"}},
{"mark":{"type":"text","text":"Average","x":37,"y":57,"font":"Liberation Sans","fontSize":13.5,"color":"#e8e8e8"}},
{"mark":{"type":"text","text":"Low on 07/26/11","x":37,"y":73,"font":"Liberation Sans","fontSize":13.5,"color":"#e8e8e8"}},
{"mark":{"type":"text","text":"1234.30","x":194,"y":25,"align":"right","font":"Liberation Sans","fontSize":13.5,"color":"#e8e8e8"}},
{"mark":{"type":"text","text":"1238.81","x":194,"y":41,"align":"right","font":"Liberation Sans","fontSize":13.5,"color":"#e8e8e8"}},
{"mark":{"type":"text","text":"1034.73","x":194,"y":57,"align":"right","font":"Liberation Sans","fontSize":13.5,"color":"#e8e8e8"}},
{"mark":{"type":"text","text":"912.58","x":194,"y":73,"align":"right","font":"Liberation Sans","fontSize":13.5,"color":"#e8e8e8"}},

{"mark":{"type":"rect","x":697,"x2":973,"y":0,"y2":22,"color":"#1c1c1f","stroke":"#333"}},
{"mark":{"type":"text","text":"✛","x":709,"y":15,"align":"center","fontSize":12,"color":"#777"}},
{"mark":{"type":"text","text":"Track","x":723,"y":15,"font":"Liberation Sans","fontSize":12.5,"color":"#bbb"}},
{"mark":{"type":"text","text":"∠","x":772,"y":15,"align":"center","fontSize":12,"color":"#777"}},
{"mark":{"type":"text","text":"Annotate","x":788,"y":15,"font":"Liberation Sans","fontSize":12.5,"color":"#bbb"}},
{"mark":{"type":"text","text":"≣","x":853,"y":15,"align":"center","fontSize":12,"color":"#777"}},
{"mark":{"type":"text","text":"News","x":872,"y":15,"font":"Liberation Sans","fontSize":12.5,"color":"#bbb"}},
{"mark":{"type":"text","text":"⚲","x":921,"y":15,"align":"center","fontSize":12,"color":"#777"}},
{"mark":{"type":"text","text":"Zoom","x":935,"y":15,"font":"Liberation Sans","fontSize":12.5,"color":"#bbb"}},

{"mark":{"type":"rect","x":0,"x2":21,"y":-178,"y2":-140,"color":"#18b2ff"}},
{"mark":{"type":"text","text":"BBDXY","x":24,"y":-148,"fontSize":31}},
{"mark":{"type":"text","text":"↑","x":212,"y":-148,"font":"Liberation Mono","fontSize":33,"color":"#2ed12e"}},
{"mark":{"type":"text","text":"1234.30","x":250,"y":-148,"font":"Liberation Mono","fontSize":35,"color":"#2ed12e"}},
{"mark":{"type":"text","text":"+3.03","x":450,"y":-148,"font":"Liberation Mono","fontSize":33,"color":"#2ed12e"}},
{"mark":{"type":"text","text":"At","x":23,"y":-110,"font":"DejaVu Sans","fontSize":31,"color":"#f7941d"}},
{"mark":{"type":"text","text":"8:10","x":84,"y":-110,"font":"Liberation Mono","fontSize":33}},
{"mark":{"type":"text","text":"Vol","x":260,"y":-110,"fontSize":31,"color":"#f7941d"}},
{"mark":{"type":"text","text":"0","x":336,"y":-110,"font":"Liberation Mono","fontSize":33}},
{"mark":{"type":"text","text":"O","x":550,"y":-110,"font":"Liberation Mono","fontSize":33,"color":"#f7941d"}},
{"mark":{"type":"text","text":"1231.86","x":585,"y":-110,"font":"Liberation Mono","fontSize":33}},
{"mark":{"type":"text","text":"H","x":745,"y":-110,"font":"Liberation Mono","fontSize":33,"color":"#f7941d"}},
{"mark":{"type":"text","text":"1235.85","x":780,"y":-110,"font":"Liberation Mono","fontSize":33}},
{"mark":{"type":"text","text":"L","x":940,"y":-110,"font":"Liberation Mono","fontSize":33,"color":"#f7941d"}},
{"mark":{"type":"text","text":"1231.77","x":977,"y":-110,"font":"Liberation Mono","fontSize":33}},
{"mark":{"type":"text","text":"Prev","x":1136,"y":-110,"fontSize":31,"color":"#f7941d"}},
{"mark":{"type":"text","text":"1231.27","x":1239,"y":-110,"font":"Liberation Mono","fontSize":33}},

{"mark":{"type":"rect","x":331,"x2":1680,"y":-102,"y2":-64,"fill":{"gradient":"linear","x1":0,"y1":0,"x2":0,"y2":1,"stops":[{"offset":0,"color":"#f0404f"},{"offset":0.35,"color":"#c81a2a"},{"offset":1,"color":"#76000f"}]}}},
{"mark":{"type":"rect","x":0,"x2":330,"y":-101,"y2":-65,"color":"#ff9f2c"}},
{"mark":{"type":"rect","x":618,"x2":620,"y":-102,"y2":-64,"color":"#a83a48"}},
{"mark":{"type":"rect","x":879,"x2":881,"y":-102,"y2":-64,"color":"#a83a48"}},
{"mark":{"type":"rect","x":1051,"x2":1053,"y":-102,"y2":-64,"color":"#a83a48"}},
{"mark":{"type":"text","text":"BBDXY Index","x":3,"y":-72,"fontSize":31,"color":"#000"}},
{"mark":{"type":"text","text":"95)","x":383,"y":-74,"font":"Liberation Sans","fontSize":28}},
{"mark":{"type":"text","text":"Compare","x":430,"y":-74,"fontSize":31}},
{"mark":{"type":"text","text":"96)","x":670,"y":-74,"font":"Liberation Sans","fontSize":28}},
{"mark":{"type":"text","text":"Actions","x":717,"y":-74,"fontSize":31}},
{"mark":{"type":"point","shape":"triangle-down","filled":true,"opacity":1,"x":868,"y":-83,"size":24,"color":"#fff"}},
{"mark":{"type":"text","text":"97)","x":917,"y":-74,"font":"Liberation Sans","fontSize":28}},
{"mark":{"type":"text","text":"Edit","x":963,"y":-74,"fontSize":31}},
{"mark":{"type":"point","shape":"triangle-down","filled":true,"opacity":1,"x":1041,"y":-83,"size":24,"color":"#fff"}},
{"mark":{"type":"text","text":"Bar Chart","x":1665,"y":-73,"align":"right","fontSize":33}},

{"mark":{"type":"rect","x":0,"x2":167,"y":-63,"y2":-33,"color":"#ff9f2c"}},
{"mark":{"type":"text","text":"11/24/2010","x":11,"y":-39,"font":"Liberation Mono","fontSize":25,"color":"#000"}},
{"mark":{"type":"rect","x":171,"x2":205,"y":-64,"y2":-33,"color":"#55575a"}},
{"mark":{"type":"text","text":"▦","x":188,"y":-42,"align":"center","fontSize":20,"color":"#111"}},
{"mark":{"type":"text","text":"-","x":225,"y":-39,"align":"center","font":"Liberation Mono","fontSize":25,"color":"#ff9f2c"}},
{"mark":{"type":"rect","x":245,"x2":412,"y":-63,"y2":-33,"color":"#ff9f2c"}},
{"mark":{"type":"text","text":"11/23/2015","x":257,"y":-39,"font":"Liberation Mono","fontSize":25,"color":"#000"}},
{"mark":{"type":"rect","x":416,"x2":449,"y":-64,"y2":-33,"color":"#55575a"}},
{"mark":{"type":"text","text":"▦","x":432,"y":-42,"align":"center","fontSize":20,"color":"#111"}},
{"mark":{"type":"rect","x":467,"x2":632,"y":-63,"y2":-33,"color":"#9a9aa0"}},
{"mark":{"type":"text","text":"Last Price","x":469,"y":-39,"fontSize":26,"color":"#000"}},
{"mark":{"type":"rect","x":635,"x2":661,"y":-63,"y2":-33,"color":"#77787c"}},
{"mark":{"type":"point","shape":"triangle-down","filled":true,"opacity":1,"x":648,"y":-48,"size":45,"color":"#555"}},
{"mark":{"type":"text","text":"Mov Avg","x":988,"y":-39,"fontSize":24,"color":"#f7941d"}},
{"mark":{"type":"rect","x":1108,"x2":1170,"y":-63,"y2":-33,"color":"#ff9f2c"}},
{"mark":{"type":"rect","x":1174,"x2":1236,"y":-63,"y2":-33,"color":"#ff9f2c"}},
{"mark":{"type":"rect","x":1239,"x2":1301,"y":-63,"y2":-33,"color":"#ff9f2c"}},
{"mark":{"type":"rect","x":1318,"x2":1541,"y":-63,"y2":-33,"color":"#ff9f2c"}},
{"mark":{"type":"text","text":"No Lower Chart","x":1320,"y":-39,"fontSize":25.5,"color":"#000"}},
{"mark":{"type":"rect","x":1544,"x2":1570,"y":-63,"y2":-33,"color":"#66676a"}},
{"mark":{"type":"point","shape":"triangle-down","filled":true,"opacity":1,"x":1557,"y":-48,"size":45,"color":"#111"}},
{"mark":{"type":"rect","x":1587,"x2":1651,"y":-63,"y2":-33,"color":"#ff9f2c"}},
{"mark":{"type":"text","text":"USD","x":1590,"y":-39,"fontSize":23,"color":"#000"}},
{"mark":{"type":"rect","x":1654,"x2":1680,"y":-63,"y2":-33,"color":"#66676a"}},
{"mark":{"type":"point","shape":"triangle-down","filled":true,"opacity":1,"x":1667,"y":-48,"size":45,"color":"#111"}},

{"mark":{"type":"rect","x":0,"x2":58,"y":-31,"y2":-1,"color":"#1b1b1d"}},
{"mark":{"type":"rect","x":60,"x2":118,"y":-31,"y2":-1,"color":"#1b1b1d"}},
{"mark":{"type":"rect","x":121,"x2":181,"y":-31,"y2":-1,"color":"#1b1b1d"}},
{"mark":{"type":"rect","x":183,"x2":243,"y":-31,"y2":-1,"color":"#1b1b1d"}},
{"mark":{"type":"rect","x":245,"x2":317,"y":-31,"y2":-1,"color":"#1b1b1d"}},
{"mark":{"type":"rect","x":320,"x2":376,"y":-31,"y2":-1,"color":"#1b1b1d"}},
{"mark":{"type":"rect","x":378,"x2":434,"y":-31,"y2":-1,"color":"#1e5080"}},
{"mark":{"type":"rect","x":436,"x2":507,"y":-31,"y2":-1,"color":"#1b1b1d"}},
{"mark":{"type":"rect","x":510,"x2":632,"y":-31,"y2":-1,"color":"#1b1b1d"}},
{"mark":{"type":"rect","x":645,"x2":710,"y":-31,"y2":-1,"color":"#1b1b1d"}},
{"mark":{"type":"rect","x":711,"x2":774,"y":-31,"y2":-1,"color":"#1e5080"}},
{"mark":{"type":"rect","x":775,"x2":814,"y":-31,"y2":-1,"color":"#1b1b1d"}},
{"mark":{"type":"rect","x":816,"x2":910,"y":-31,"y2":-1,"color":"#1b1b1d"}},
{"mark":{"type":"rect","x":912,"x2":1022,"y":-33,"y2":0,"color":"#1a1a18"}},
{"mark":{"type":"rect","x":1023,"x2":1113,"y":-31,"y2":-1,"color":"#1b1b1d"}},
{"mark":{"type":"rect","x":1115,"x2":1405,"y":-31,"y2":-1,"color":"#1b1b1d"}},
{"mark":{"type":"rect","x":1407,"x2":1580,"y":-31,"y2":-1,"color":"#1b1b1d"}},
{"mark":{"type":"rect","x":1582,"x2":1680,"y":-31,"y2":-1,"color":"#1b1b1d"}},
{"mark":{"type":"text","text":"1D","x":30,"y":-7,"align":"center","fontSize":24,"color":"#c8c8c8"}},
{"mark":{"type":"text","text":"3D","x":90,"y":-7,"align":"center","fontSize":24,"color":"#c8c8c8"}},
{"mark":{"type":"text","text":"1M","x":152,"y":-7,"align":"center","fontSize":24,"color":"#c8c8c8"}},
{"mark":{"type":"text","text":"6M","x":213,"y":-7,"align":"center","fontSize":24,"color":"#c8c8c8"}},
{"mark":{"type":"text","text":"YTD","x":281,"y":-7,"align":"center","fontSize":24,"color":"#c8c8c8"}},
{"mark":{"type":"text","text":"1Y","x":349,"y":-7,"align":"center","fontSize":24,"color":"#c8c8c8"}},
{"mark":{"type":"text","text":"5Y","x":406,"y":-7,"align":"center","fontSize":24}},
{"mark":{"type":"text","text":"Max","x":473,"y":-7,"align":"center","fontSize":24,"color":"#c8c8c8"}},
{"mark":{"type":"text","text":"Daily","x":524,"y":-7,"fontSize":24,"color":"#c8c8c8"}},
{"mark":{"type":"point","shape":"triangle-down","filled":true,"opacity":1,"x":608,"y":-16,"size":170,"color":"#c8c8c8"}},
{"mark":{"type":"point","shape":"M-1,-1V1H1M-0.7,0.4L-0.3,-0.2L0,0.1L0.5,-0.6L0.8,-0.3","filled":false,"opacity":1,"strokeWidth":1.5,"x":675,"y":-16,"size":500,"color":"#c8c8c8"}},
{"mark":{"type":"point","shape":"M-0.6,-1V1M-0.9,-0.4H-0.6M-0.6,0.3H-0.3M0.5,-1V1M0.2,-0.2H0.5M0.5,0.4H0.8","filled":false,"opacity":1,"strokeWidth":2.5,"x":742,"y":-16,"size":500,"color":"#fff"}},
{"mark":{"type":"point","shape":"triangle-down","filled":true,"opacity":1,"x":791,"y":-17,"size":70,"color":"#e8e8e8"}},
{"mark":{"type":"text","text":"Table","x":832,"y":-7,"fontSize":24,"color":"#c8c8c8"}},
{"mark":{"type":"text","text":"«","x":1068,"y":-6,"align":"center","fontSize":32,"color":"#c8c8c8"}},
{"mark":{"type":"point","shape":"M-1,1V0.4H-0.6V1ZM-0.4,1V0H0V1ZM0.2,1V0.2H0.6V1ZM-1,-0.1L-0.3,-0.8L0.2,-0.3L1,-1","filled":false,"opacity":1,"strokeWidth":1.5,"x":1167,"y":-16,"size":420,"color":"#c8c8c8"}},
{"mark":{"type":"text","text":"Security/Study","x":1188,"y":-7,"fontSize":24.5,"color":"#c8c8c8"}},
{"mark":{"type":"text","text":"⚑","x":1456,"y":-7,"align":"center","fontSize":24,"color":"#eee"}},
{"mark":{"type":"text","text":"Event","x":1480,"y":-7,"fontSize":23,"color":"#c8c8c8"}},
{"mark":{"type":"text","text":"⚙","x":1630,"y":-7,"align":"center","fontSize":23,"color":"#c8c8c8"}}
]}
